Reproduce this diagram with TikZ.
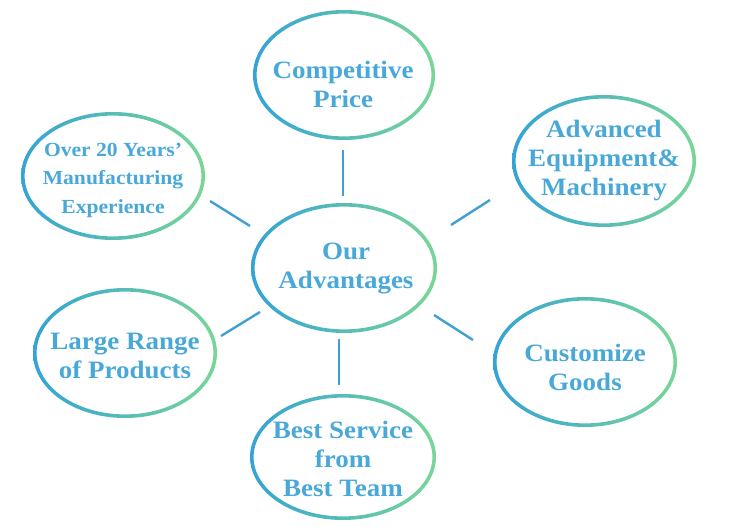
\documentclass[tikz,border=0pt]{standalone}
\usepackage{fontspec}
\setmainfont{Liberation Serif}[FakeStretch=1.08]
\usetikzlibrary{shapes.geometric}
\definecolor{cblue}{RGB}{52,163,214}
\definecolor{cgreen}{RGB}{122,214,150}
\definecolor{ctext}{RGB}{72,168,216}
\definecolor{cline}{RGB}{64,160,212}
\tikzset{
  lbl/.style={font=\bfseries\fontsize{25}{29}\selectfont, text=ctext, align=center, inner sep=0pt},
  lblsmall/.style={lbl, font=\bfseries\fontsize{20}{28.5}\selectfont},
  conn/.style={draw=cline, line width=2.4pt},
  ringshade/.style={left color=cblue, right color=cgreen, even odd rule}
}
\newcommand\ringat[3]{\shade[ringshade] (#1) ellipse [x radius=#2pt, y radius=#3pt] (#1) ellipse [x radius=#2pt-3.6pt, y radius=#3pt-3.6pt];}
\begin{document}
\begin{tikzpicture}[x=1pt,y=-1pt]
\useasboundingbox (0,0) rectangle (734,532);
% ring centres
\coordinate (rcp) at (344,75);
\coordinate (rov) at (113,176);
\coordinate (rad) at (604,161);
\coordinate (rou) at (344,268);
\coordinate (rlr) at (125,353);
\coordinate (rcu) at (585,362);
\coordinate (rbs) at (343,457);
\ringat{rcp}{91}{65}
\ringat{rov}{92}{64}
\ringat{rad}{92}{66}
\ringat{rou}{93}{65}
\ringat{rlr}{92}{65}
\ringat{rcu}{92}{65}
\ringat{rbs}{93}{63}
% texts
\node[lbl] (cp) at (343,84) {Competitive\\Price};
\node[lblsmall] (ov) at (113,180) {Over 20 Years’\\Manufacturing\\Experience};
\node[lbl] (ad) at (604,161) {Advanced\\Equipment\&\\Machinery};
\node[lbl] (ou) at (346,268) {Our\\Advantages};
\node[lbl] (lr) at (125,356) {Large Range\\of Products};
\node[lbl] (cu) at (585,367) {Customize\\Goods};
\node[lbl] (bs) at (343,459) {Best Service\\from\\Best Team};
% connector ends
\coordinate (t1) at (343,150); \coordinate (t2) at (343,196);
\coordinate (ul1) at (210,201); \coordinate (ul2) at (250,226);
\coordinate (ur1) at (451,225); \coordinate (ur2) at (490,200);
\coordinate (ll1) at (221,336); \coordinate (ll2) at (260,312);
\coordinate (lr1) at (434,315); \coordinate (lr2) at (473,340);
\coordinate (b1) at (339,339); \coordinate (b2) at (339,385);
\draw[conn] (t1) -- (t2);
\draw[conn] (ul1) -- (ul2);
\draw[conn] (ur1) -- (ur2);
\draw[conn] (ll1) -- (ll2);
\draw[conn] (lr1) -- (lr2);
\draw[conn] (b1) -- (b2);
\end{tikzpicture}
\end{document}
